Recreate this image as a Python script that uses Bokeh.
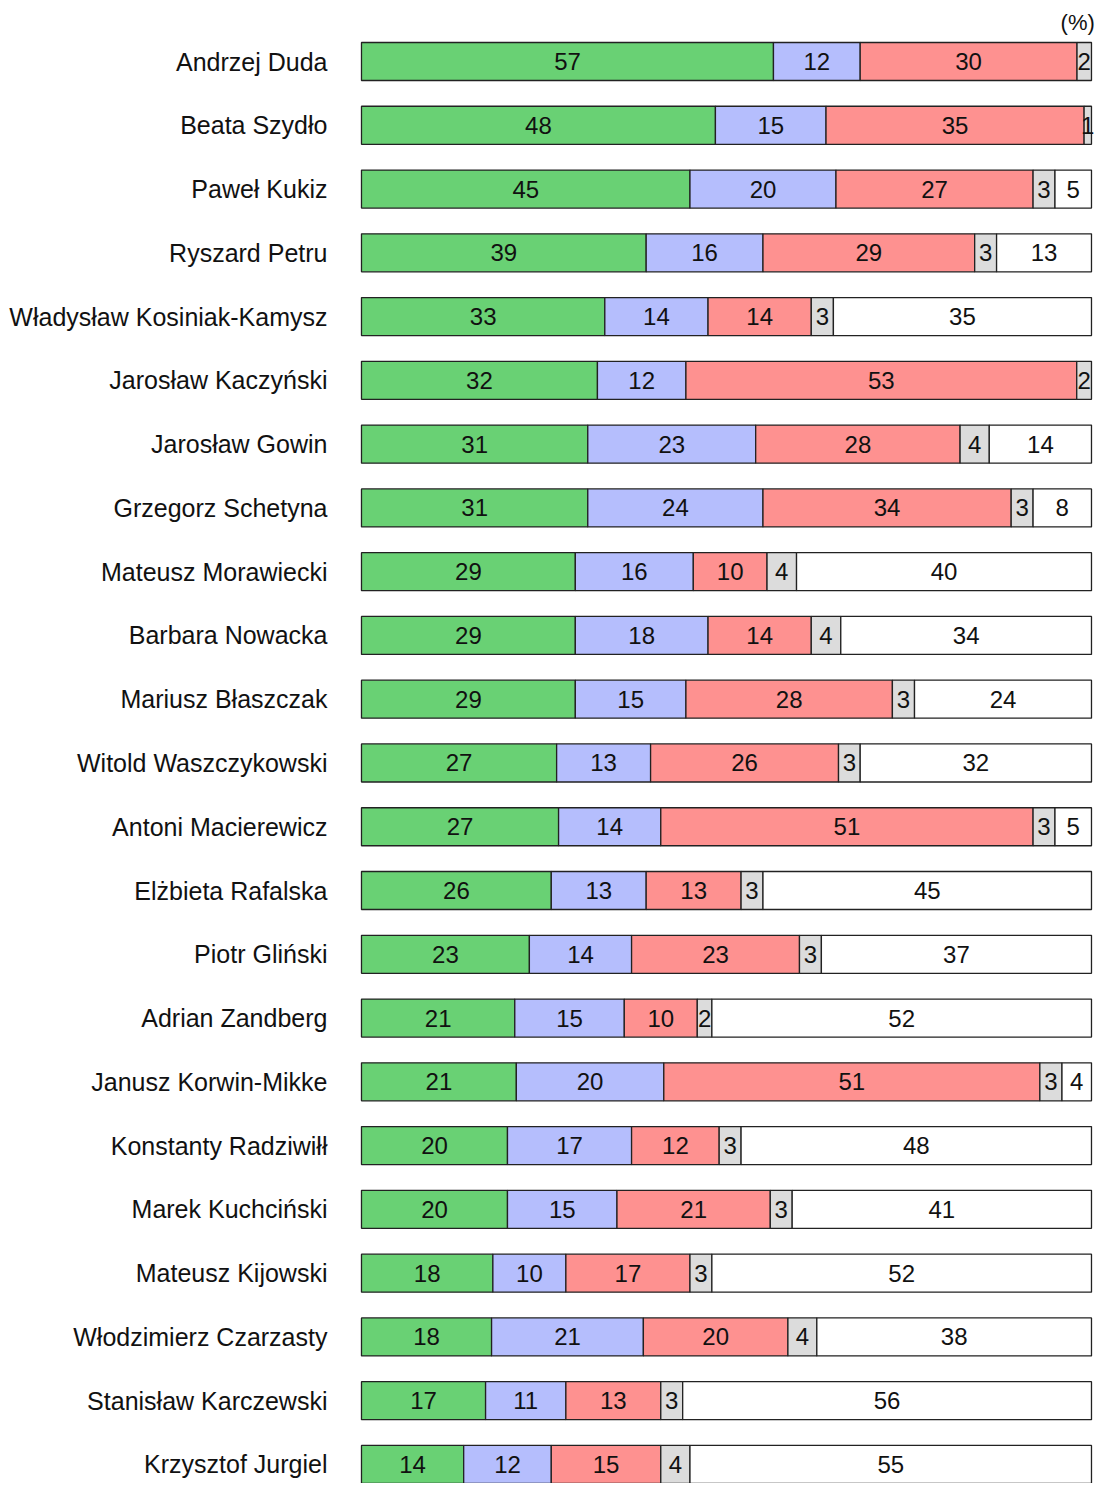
from bokeh.plotting import figure
from bokeh.models import ColumnDataSource, Range1d
from bokeh.core.properties import value
from bokeh.embed import file_html
from bokeh.resources import INLINE

names = ["Andrzej Duda", "Beata Szydło", "Paweł Kukiz", "Ryszard Petru",
         "Władysław Kosiniak-Kamysz", "Jarosław Kaczyński", "Jarosław Gowin",
         "Grzegorz Schetyna", "Mateusz Morawiecki", "Barbara Nowacka",
         "Mariusz Błaszczak", "Witold Waszczykowski", "Antoni Macierewicz",
         "Elżbieta Rafalska", "Piotr Gliński", "Adrian Zandberg",
         "Janusz Korwin-Mikke", "Konstanty Radziwiłł", "Marek Kuchciński",
         "Mateusz Kijowski", "Włodzimierz Czarzasty", "Stanisław Karczewski",
         "Krzysztof Jurgiel"]
green = [57, 48, 45, 39, 33, 32, 31, 31, 29, 29, 29, 27, 27, 26, 23, 21, 21, 20, 20, 18, 18, 17, 14]
blue = [12, 15, 20, 16, 14, 12, 23, 24, 16, 18, 15, 13, 14, 13, 14, 15, 20, 17, 15, 10, 21, 11, 12]
red = [30, 35, 27, 29, 14, 53, 28, 34, 10, 14, 28, 26, 51, 13, 23, 10, 51, 12, 21, 17, 20, 13, 15]
gray = [2, 1, 3, 3, 3, 2, 4, 3, 4, 4, 3, 3, 3, 3, 3, 2, 3, 3, 3, 3, 4, 3, 4]
white = [0, 0, 5, 13, 35, 0, 14, 8, 40, 34, 24, 32, 5, 45, 37, 52, 4, 48, 41, 52, 38, 56, 55]

series = [green, blue, red, gray, white]
colors = ["#69d174", "#b5befd", "#fe9190", "#dcdcdc", "#ffffff"]

W, H = 1095, 1483
p = figure(width=W, height=H, output_backend="svg", toolbar_location=None,
           x_range=Range1d(-49.45, 100.55), y_range=Range1d(22.2988, -0.9566),
           min_border=0, outline_line_color=None)
p.axis.visible = False
p.grid.visible = False

n = len(names)
ys = list(range(n))
totals = [sum(s[i] for s in series) for i in range(n)]
cum = [0.0] * n
for s, c in zip(series, colors):
    lefts, rights, ysel, mids, labs = [], [], [], [], []
    for i in range(n):
        if s[i] == 0:
            continue
        l = cum[i]
        r = cum[i] + s[i] / totals[i] * 100.0
        lefts.append(l)
        rights.append(r)
        ysel.append(i)
        mids.append((l + r) / 2)
        labs.append(str(s[i]))
    for i in range(n):
        cum[i] += s[i] / totals[i] * 100.0
    src = ColumnDataSource(dict(y=ysel, left=lefts, right=rights, mid=mids, lab=labs))
    p.hbar(y="y", left="left", right="right", height=0.596, source=src,
           fill_color=c, line_color="#222222", line_width=1.3)
    p.text(x="mid", y="y", text="lab", source=src, text_align="center",
           text_baseline="middle", text_font=value("Liberation Sans"),
           text_font_size="24px", text_color="#111111")

lsrc = ColumnDataSource(dict(y=ys, name=names, x=[-4.66] * n))
p.text(x="x", y="y", text="name", source=lsrc, text_align="right",
       text_baseline="middle", text_font=value("Liberation Sans"),
       text_font_size="25px", text_color="#111111")

p.text(x=[100.45], y=[-0.6116], text=["(%)"], text_align="right",
       text_baseline="middle", text_font=value("Liberation Sans"),
       text_font_size="22px", text_color="#111111")

open("out.html", "w").write(file_html(p, INLINE))
